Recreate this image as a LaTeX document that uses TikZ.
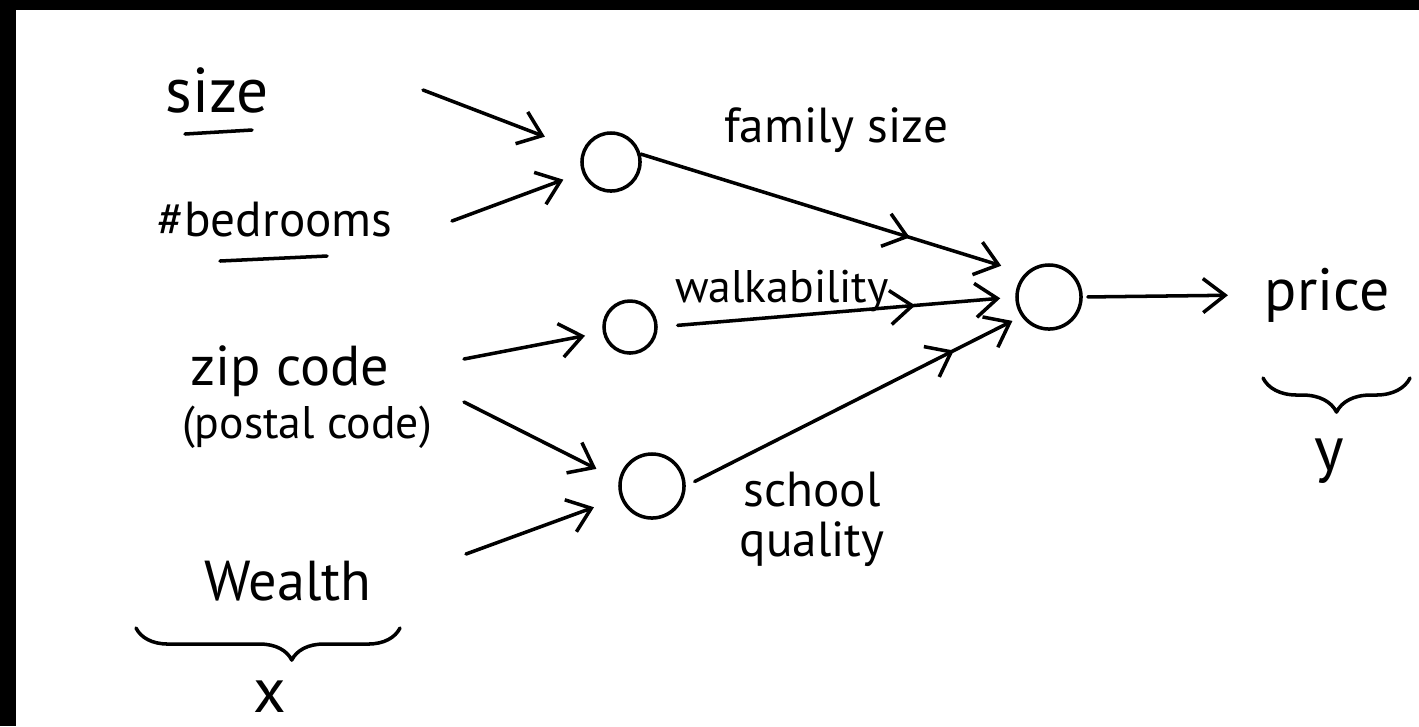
\documentclass[tikz,border=0pt]{standalone}
\usepackage{fontspec}
\setmainfont{PT Sans}
\usetikzlibrary{arrows.meta,decorations.markings,decorations.pathreplacing}

\begin{document}
\begin{tikzpicture}[x=0.01cm, y=-0.01cm, line width=1pt, line cap=round, line join=round,
	>={Straight Barb[length=2.2mm,width=3.4mm]},
	unit/.style={circle, draw, inner sep=0pt},
	lbl/.style={anchor=base, inner sep=0pt, font=\fontsize{#1}{#1}\selectfont},
	lbl/.default=15,
	midarrow/.style={postaction={decorate}, decoration={markings, mark=at position #1 with {\arrow{>}}}}]
	% page and frame
	\fill[white] (0,0) rectangle (1419,726);
	\fill[black] (0,0) rectangle (1419,10);
	\fill[black] (0,0) rectangle (16,726);
	\useasboundingbox (0,0) rectangle (1419,726);

	% input features
	\node[lbl=18] (size) at (217,112) {size};
	\node[lbl=14] (bedrooms) at (275,236) {\#bedrooms};
	\node[lbl=16] (zip) at (290,385) {zip code};
	\node[lbl=13] (postal) at (307,438) {(postal code)};
	\node[lbl=16] (wealth) at (288,600) {Wealth};
	\node[lbl=18] (xlbl) at (270,712) {x};
	\draw (185,134) -- (252,130);
	\draw (220,261) -- (327,256);
	\draw[decorate, decoration={brace, mirror, amplitude=0.32cm, aspect=0.59}] (136,628) -- (400,628);

	% hidden units
	\node[unit, minimum size=0.58cm] (h1) at (611,162) {};
	\node[unit, minimum size=0.52cm] (h2) at (630,327) {};
	\node[unit, minimum size=0.64cm] (h3) at (652,486) {};
	\node[lbl=14] (famsize) at (836,142) {family size};
	\node[lbl=13] (walkability) at (782,302) {walkability};
	\node[lbl=14, align=center] (quality) at (812,556) {school\\quality};

	% output
	\node[unit, minimum size=0.64cm] (out) at (1049,297) {};
	\node[lbl=17] (price) at (1327,310) {price};
	\node[lbl=18] (ylbl) at (1329,470) {y};
	\draw[decorate, decoration={brace, mirror, amplitude=0.34cm, aspect=0.5}] (1263,378) -- (1410,378);

	% inputs -> hidden
	\coordinate (size-o) at (423,90);
	\coordinate (bed-o) at (452,221);
	\coordinate (zip-o1) at (464,359);
	\coordinate (zip-o2) at (464,402);
	\coordinate (wealth-o) at (466,554);
	\draw[->, shorten >=4mm] (size-o) -- (h1);
	\draw[->, shorten >=2mm] (bed-o) -- (h1);
	\draw[->, shorten >=1.8mm] (zip-o1) -- (h2);
	\draw[->, shorten >=2.5mm] (zip-o2) -- (h3.170);
	\draw[->, shorten >=2.8mm] (wealth-o) -- (h3);

	% hidden -> output
	\draw[midarrow=0.7, ->, shorten >=2.5mm] (h1.15) -- (out.135);
	\draw[midarrow=0.72, ->, shorten <=2mm, shorten >=1.5mm] (h2.east) -- (out.west);
	\draw[midarrow=0.8, ->, shorten <=1mm, shorten >=1mm] (h3.east) -- (out.215);
	\draw[->, shorten <=0.5mm, shorten >=3.5mm] (out.east) -- (price.west);
\end{tikzpicture}
\end{document}
